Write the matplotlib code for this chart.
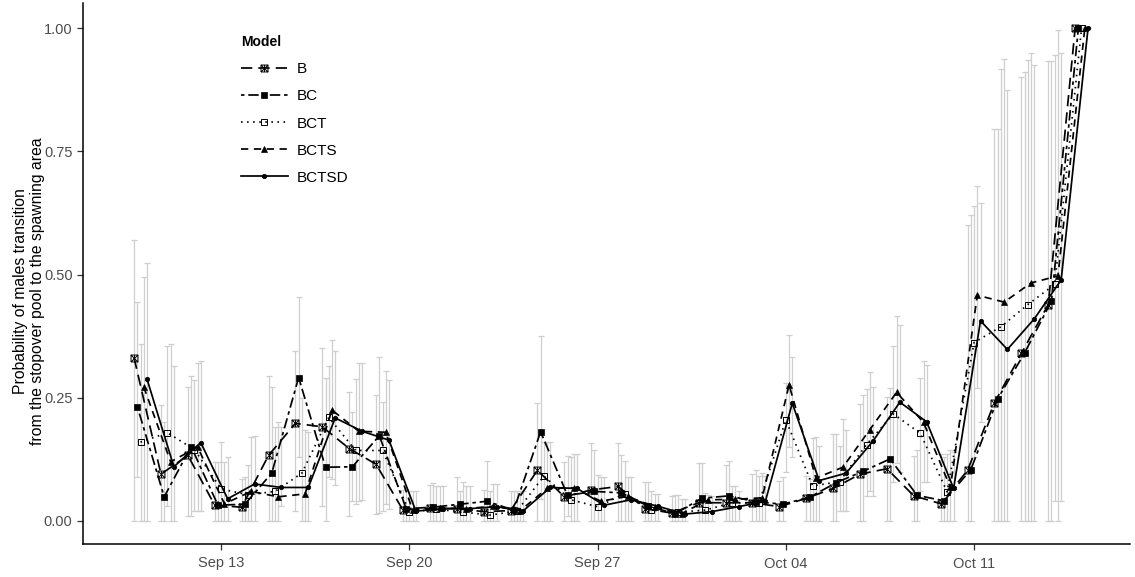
import numpy as np
import matplotlib
matplotlib.use("Agg")
import matplotlib.pyplot as plt
import matplotlib.dates as mdates
from matplotlib.path import Path
import datetime as dt

# ---------------- data ----------------
start = dt.date(2019, 9, 10)
dates = [start + dt.timedelta(days=i) for i in range(36)]

models = ["B", "BC", "BCT", "BCTS", "BCTSD"]

B = [0.331, 0.095, 0.133, 0.032, 0.028, 0.133, 0.198, 0.191, 0.147, 0.115,
     0.022, 0.026, 0.025, 0.019, 0.021, 0.103, 0.049, 0.063, 0.070, 0.025,
     0.016, 0.037, 0.037, 0.037, 0.029, 0.046, 0.066, 0.095, 0.106, 0.051,
     0.035, 0.103, 0.240, 0.340, 0.439, 1.000]
BC = [0.232, 0.049, 0.151, 0.032, 0.034, 0.097, 0.291, 0.109, 0.110, 0.173,
      0.025, 0.028, 0.034, 0.040, 0.022, 0.181, 0.052, 0.060, 0.057, 0.030,
      0.015, 0.046, 0.051, 0.039, 0.034, 0.048, 0.078, 0.101, 0.126, 0.052,
      0.041, 0.104, 0.248, 0.341, 0.446, 1.000]
BCT = [0.160, 0.179, 0.145, 0.065, 0.053, 0.060, 0.097, 0.210, 0.143, 0.143,
       0.018, 0.024, 0.018, 0.012, 0.020, 0.091, 0.043, 0.029, 0.055, 0.022,
       0.018, 0.022, 0.037, 0.036, 0.205, 0.071, 0.080, 0.155, 0.217, 0.178,
       0.059, 0.362, 0.394, 0.439, 0.480, 1.000]
BCTS = [0.272, 0.120, 0.150, 0.035, 0.060, 0.049, 0.055, 0.225, 0.182, 0.180,
        0.022, 0.026, 0.025, 0.030, 0.021, 0.066, 0.067, 0.040, 0.050, 0.028,
        0.015, 0.043, 0.044, 0.047, 0.276, 0.087, 0.109, 0.185, 0.261, 0.200,
        0.068, 0.458, 0.444, 0.483, 0.497, 1.000]
BCTSD = [0.288, 0.110, 0.159, 0.045, 0.075, 0.068, 0.068, 0.209, 0.182, 0.164,
         0.020, 0.025, 0.025, 0.029, 0.021, 0.068, 0.066, 0.032, 0.043, 0.030,
         0.014, 0.019, 0.029, 0.040, 0.239, 0.082, 0.097, 0.162, 0.241, 0.201,
         0.066, 0.406, 0.348, 0.410, 0.489, 1.000]

B_lo = [0.0, 0.0, 0.01, 0.0, 0.0, 0.0, 0.02, 0.03, 0.01, 0.015,
        0.0, 0.0, 0.0, 0.0, 0.0, 0.0, 0.0, 0.0, 0.0, 0.0,
        0.0, 0.0, 0.0, 0.0, 0.0, 0.0, 0.0, 0.0, 0.0, 0.0,
        0.0, 0.0, 0.0, 0.0, 0.0, 1.0]
B_hi = [0.571, 0.235, 0.272, 0.120, 0.085, 0.295, 0.345, 0.350, 0.262, 0.256,
        0.062, 0.073, 0.090, 0.063, 0.060, 0.240, 0.120, 0.159, 0.159, 0.080,
        0.050, 0.117, 0.114, 0.095, 0.082, 0.091, 0.176, 0.237, 0.252, 0.132,
        0.136, 0.600, 0.795, 0.900, 0.934, 1.0]
BC_lo = [0.09, 0.0, 0.01, 0.0, 0.0, 0.0, 0.13, 0.0, 0.04, 0.017,
         0.0, 0.0, 0.0, 0.0, 0.0, 0.045, 0.01, 0.0, 0.0, 0.0,
         0.0, 0.0, 0.0, 0.0, 0.0, 0.0, 0.0, 0.0, 0.0, 0.0,
         0.0, 0.0, 0.0, 0.0, 0.0, 1.0]
BC_hi = [0.444, 0.200, 0.294, 0.120, 0.090, 0.272, 0.455, 0.290, 0.222, 0.333,
         0.065, 0.078, 0.060, 0.122, 0.060, 0.375, 0.132, 0.144, 0.133, 0.080,
         0.053, 0.117, 0.122, 0.103, 0.090, 0.085, 0.176, 0.256, 0.270, 0.144,
         0.130, 0.620, 0.795, 0.911, 0.934, 1.0]
BCT_lo = [0.0, 0.03, 0.02, 0.0, 0.0, 0.0, 0.0, 0.09, 0.035, 0.02,
          0.0, 0.0, 0.0, 0.0, 0.0, 0.0, 0.0, 0.0, 0.0, 0.0,
          0.0, 0.0, 0.0, 0.0, 0.10, 0.0, 0.02, 0.05, 0.08, 0.06,
          0.0, 0.13, 0.0, 0.0, 0.04, 1.0]
BCT_hi = [0.360, 0.355, 0.285, 0.160, 0.114, 0.190, 0.250, 0.315, 0.288, 0.242,
          0.060, 0.070, 0.080, 0.060, 0.060, 0.160, 0.130, 0.093, 0.122, 0.060,
          0.053, 0.056, 0.071, 0.092, 0.280, 0.168, 0.152, 0.267, 0.354, 0.291,
          0.135, 0.640, 0.917, 0.935, 0.945, 1.0]
BCTS_lo = [0.0, 0.0, 0.02, 0.0, 0.0, 0.0, 0.0, 0.085, 0.04, 0.034,
           0.0, 0.0, 0.0, 0.0, 0.0, 0.0, 0.0, 0.0, 0.0, 0.0,
           0.0, 0.0, 0.0, 0.0, 0.15, 0.0, 0.02, 0.06, 0.117, 0.08,
           0.0, 0.27, 0.0, 0.0, 0.0, 1.0]
BCTS_hi = [0.495, 0.360, 0.320, 0.120, 0.170, 0.200, 0.185, 0.367, 0.320, 0.305,
           0.060, 0.070, 0.070, 0.075, 0.060, 0.160, 0.136, 0.090, 0.090, 0.055,
           0.044, 0.053, 0.070, 0.097, 0.377, 0.170, 0.206, 0.303, 0.416, 0.325,
           0.145, 0.680, 0.937, 0.950, 0.997, 1.0]
BCTSD_lo = [0.0, 0.0, 0.02, 0.0, 0.0, 0.03, 0.0, 0.073, 0.043, 0.025,
            0.0, 0.0, 0.0, 0.0, 0.0, 0.0, 0.0, 0.0, 0.0, 0.0,
            0.0, 0.0, 0.0, 0.0, 0.13, 0.0, 0.02, 0.05, 0.10, 0.08,
            0.0, 0.20, 0.0, 0.0, 0.04, 1.0]
BCTSD_hi = [0.523, 0.315, 0.325, 0.130, 0.172, 0.190, 0.180, 0.345, 0.320, 0.287,
            0.060, 0.070, 0.070, 0.075, 0.060, 0.160, 0.136, 0.090, 0.090, 0.055,
            0.044, 0.050, 0.060, 0.092, 0.333, 0.152, 0.185, 0.271, 0.398, 0.316,
            0.140, 0.645, 0.874, 0.925, 0.949, 1.0]

values = [B, BC, BCT, BCTS, BCTSD]
lows = [B_lo, BC_lo, BCT_lo, BCTS_lo, BCTSD_lo]
highs = [B_hi, BC_hi, BCT_hi, BCTS_hi, BCTSD_hi]

# ---------------- styles ----------------
sq_x = Path([(-1, -1), (1, -1), (1, 1), (-1, 1), (-1, -1),
             (-1, -1), (1, 1), (-1, 1), (1, -1),
             (0, -1), (0, 1)],
            [Path.MOVETO, Path.LINETO, Path.LINETO, Path.LINETO, Path.LINETO,
             Path.MOVETO, Path.LINETO, Path.MOVETO, Path.LINETO,
             Path.MOVETO, Path.LINETO])

styles = {
    "B":     dict(dashes=(6.5, 3.5), marker=sq_x, mfc="none", ms=5.0, mew=0.7),
    "BC":    dict(dashes=(2, 2.2, 6, 2.2), marker="s", mfc="black", ms=3.8, mew=0.5),
    "BCT":   dict(dashes=(0.9, 2.6), marker="s", mfc="none", ms=4.3, mew=0.7),
    "BCTS":  dict(dashes=(4.2, 3.2), marker="^", mfc="black", ms=4.2, mew=0.5),
    "BCTSD": dict(dashes=None, marker="o", mfc="black", ms=3.2, mew=0.5),
}

plt.rcParams['font.family'] = ['Liberation Sans', 'DejaVu Sans']

fig = plt.figure(figsize=(11.35, 5.77), dpi=100)
ax = fig.add_axes([83 / 1135, 33 / 577, (1130 - 83) / 1135, 540.6 / 577])

xnum = mdates.date2num(dates)
offsets = [-0.24, -0.12, 0.0, 0.12, 0.24]

for i, m in enumerate(models):
    x = xnum + offsets[i]
    v = np.array(values[i])
    lo = np.array(lows[i])
    hi = np.array(highs[i])
    ax.errorbar(x, v, yerr=[v - lo, hi - v], fmt="none", ecolor="#CFCFCF",
                elinewidth=0.9, capsize=2.2, capthick=0.9, zorder=1)

handles = []
for i, m in enumerate(models):
    x = xnum + offsets[i]
    st = styles[m]
    ln, = ax.plot(x, values[i], color="black", lw=1.25, zorder=3,
                  marker=st["marker"], markerfacecolor=st["mfc"],
                  markeredgecolor="black", markersize=st["ms"],
                  markeredgewidth=st["mew"], label=m)
    if st["dashes"] is not None:
        ln.set_dashes(st["dashes"])
    handles.append(ln)

ax.set_xlim(xnum[0] - 2.14, xnum[0] + 36.8)
ax.set_ylim(-0.0467, 1.05)
ax.set_yticks([0, 0.25, 0.5, 0.75, 1.0])
ax.set_yticklabels(["0.00", "0.25", "0.50", "0.75", "1.00"])
ticks = [mdates.date2num(dt.date(2019, 9, 13)) + 7 * k for k in range(5)]
ax.set_xticks(ticks)
ax.xaxis.set_major_formatter(mdates.DateFormatter("%b %d"))
for s in ["top", "right"]:
    ax.spines[s].set_visible(False)
for s in ["left", "bottom"]:
    ax.spines[s].set_linewidth(1.1)
ax.tick_params(axis="both", colors="#333333", labelcolor="#4D4D4D",
               labelsize=10.5, length=4, width=0.9)
ax.tick_params(axis="x", pad=5)
ax.set_ylabel("Probability of males transition\nfrom the stopover pool to the spawning area",
              fontsize=11.3, color="black")
ax.yaxis.set_label_coords(-0.036, 0.468)

leg = ax.legend(handles=handles, labels=models, title="Model",
                loc="upper left", bbox_to_anchor=(233 / 1135, 1 - 27.5 / 577),
                bbox_transform=fig.transFigure, frameon=False,
                fontsize=11, title_fontproperties={"weight": "bold", "size": 10},
                handlelength=3.07, handletextpad=0.62, labelspacing=0.86,
                borderpad=0, alignment="left")

fig.savefig("out.png", dpi=100)
